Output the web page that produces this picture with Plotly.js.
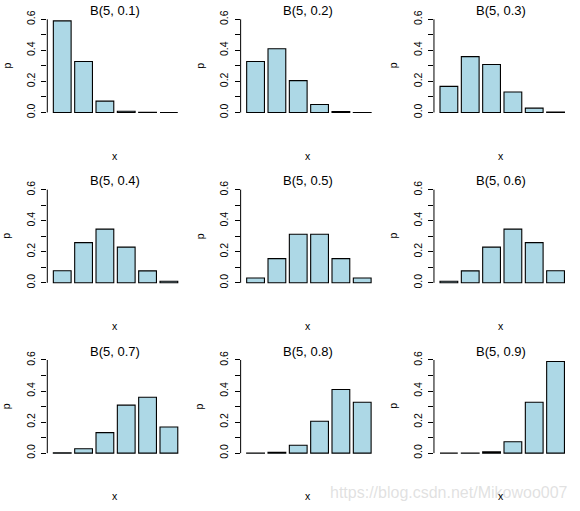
<!DOCTYPE html>
<html>
<head>
<meta charset="utf-8">
<script src="https://cdn.plot.ly/plotly-3.0.1.min.js"></script>
<style>html,body{margin:0;padding:0;background:#fff;}#chart{width:580px;height:511px;}</style>
</head>
<body>
<div id="chart"></div>
<script>
// ---- data ----
const xValues = [0, 1, 2, 3, 4, 5];
const panelTitles = ['B(5, 0.1)', 'B(5, 0.2)', 'B(5, 0.3)', 'B(5, 0.4)', 'B(5, 0.5)', 'B(5, 0.6)', 'B(5, 0.7)', 'B(5, 0.8)', 'B(5, 0.9)'];
const p01 = [0.590, 0.328, 0.073, 0.008, 0.0005, 0.00001];
const p02 = [0.328, 0.410, 0.205, 0.051, 0.006, 0.0003];
const p03 = [0.168, 0.360, 0.309, 0.132, 0.028, 0.002];
const p04 = [0.078, 0.259, 0.346, 0.230, 0.077, 0.010];
const p05 = [0.031, 0.156, 0.313, 0.313, 0.156, 0.031];
const p06 = [0.010, 0.077, 0.230, 0.346, 0.259, 0.078];
const p07 = [0.002, 0.028, 0.132, 0.309, 0.360, 0.168];
const p08 = [0.0003, 0.006, 0.051, 0.205, 0.410, 0.328];
const p09 = [0.00001, 0.0005, 0.008, 0.073, 0.328, 0.590];
const yTickVals = [0, 0.1, 0.2, 0.3, 0.4, 0.5, 0.6];
const yTickText = ['0.0', '', '0.2', '', '0.4', '', '0.6'];
const xLabel = 'x';
const yLabel = 'p';
const watermark = 'https://blog.csdn.net/Mikowoo007';

const series = [p01, p02, p03, p04, p05, p06, p07, p08, p09];

// ---- layout geometry ----
const W = 580, H = 511;
const colStep = 193.33, rowStep = 170.33;
const plotL = 47.3, plotW = 134.6, plotT = 15.6, plotH = 100.6;
const font = 'Liberation Sans, Arial, sans-serif';

const data = [];
const layout = {
  width: W, height: H,
  margin: {l: 0, r: 0, t: 0, b: 0},
  paper_bgcolor: '#ffffff', plot_bgcolor: '#ffffff',
  showlegend: false,
  bargap: 1 - 1 / 1.2,
  font: {family: font, color: '#000000'},
  annotations: [], shapes: []
};

// watermark first so the axis labels sit on top of it
layout.annotations.push({
  text: watermark, xref: 'paper', yref: 'paper',
  x: 570 / W, y: 1 - 492.5 / H, xanchor: 'right', yanchor: 'middle',
  showarrow: false,
  font: {family: font, size: 16, color: 'rgba(200,200,200,0.55)'}
});

series.forEach((vals, i) => {
  const col = i % 3, row = Math.floor(i / 3);
  const n = i === 0 ? '' : String(i + 1);
  const xL = plotL + colStep * col, xR = xL + plotW;
  const yT = plotT + rowStep * row, yB = yT + plotH;
  data.push({
    type: 'bar', x: xValues, y: vals,
    xaxis: 'x' + n, yaxis: 'y' + n,
    marker: {color: '#ADD8E6', line: {color: '#000000', width: 1.1}},
    hoverinfo: 'skip'
  });
  layout['xaxis' + n] = {
    domain: [xL / W, xR / W], range: [-0.70, 5.61],
    visible: false, fixedrange: true, anchor: 'y' + n
  };
  layout['yaxis' + n] = {
    domain: [1 - yB / H, 1 - yT / H], range: [-0.024, 0.624],
    anchor: 'x' + n,
    showgrid: false, zeroline: false, showline: false,
    tickmode: 'array', tickvals: yTickVals, ticktext: yTickText,
    ticks: 'outside', ticklen: 5, tickwidth: 1, tickcolor: '#000000',
    tickangle: -90, ticklabelstandoff: 2,
    tickfont: {family: font, size: 10.5, color: '#000000'},
    fixedrange: true
  };
  layout.shapes.push({
    type: 'line', xref: 'x' + n + ' domain', yref: 'y' + n,
    x0: 0, x1: 0, y0: 0, y1: 0.6,
    line: {color: '#000000', width: 1}
  });
  const cx = (xL + xR) / 2;
  layout.annotations.push({
    text: panelTitles[i], xref: 'paper', yref: 'paper',
    x: cx / W, y: 1 - (10.5 + rowStep * row) / H,
    xanchor: 'center', yanchor: 'middle', showarrow: false,
    font: {family: font, size: 13, color: '#000000'}
  });
  layout.annotations.push({
    text: xLabel, xref: 'paper', yref: 'paper',
    x: cx / W, y: 1 - (155.5 + rowStep * row) / H,
    xanchor: 'center', yanchor: 'middle', showarrow: false,
    font: {family: font, size: 10.5, color: '#000000'}
  });
  layout.annotations.push({
    text: yLabel, xref: 'paper', yref: 'paper',
    x: (6 + colStep * col) / W, y: 1 - (65.5 + rowStep * row) / H,
    xanchor: 'center', yanchor: 'middle', textangle: -90, showarrow: false,
    font: {family: font, size: 10.5, color: '#000000'}
  });
});

Plotly.newPlot('chart', data, layout, {displayModeBar: false, staticPlot: true});
</script>
</body>
</html>
